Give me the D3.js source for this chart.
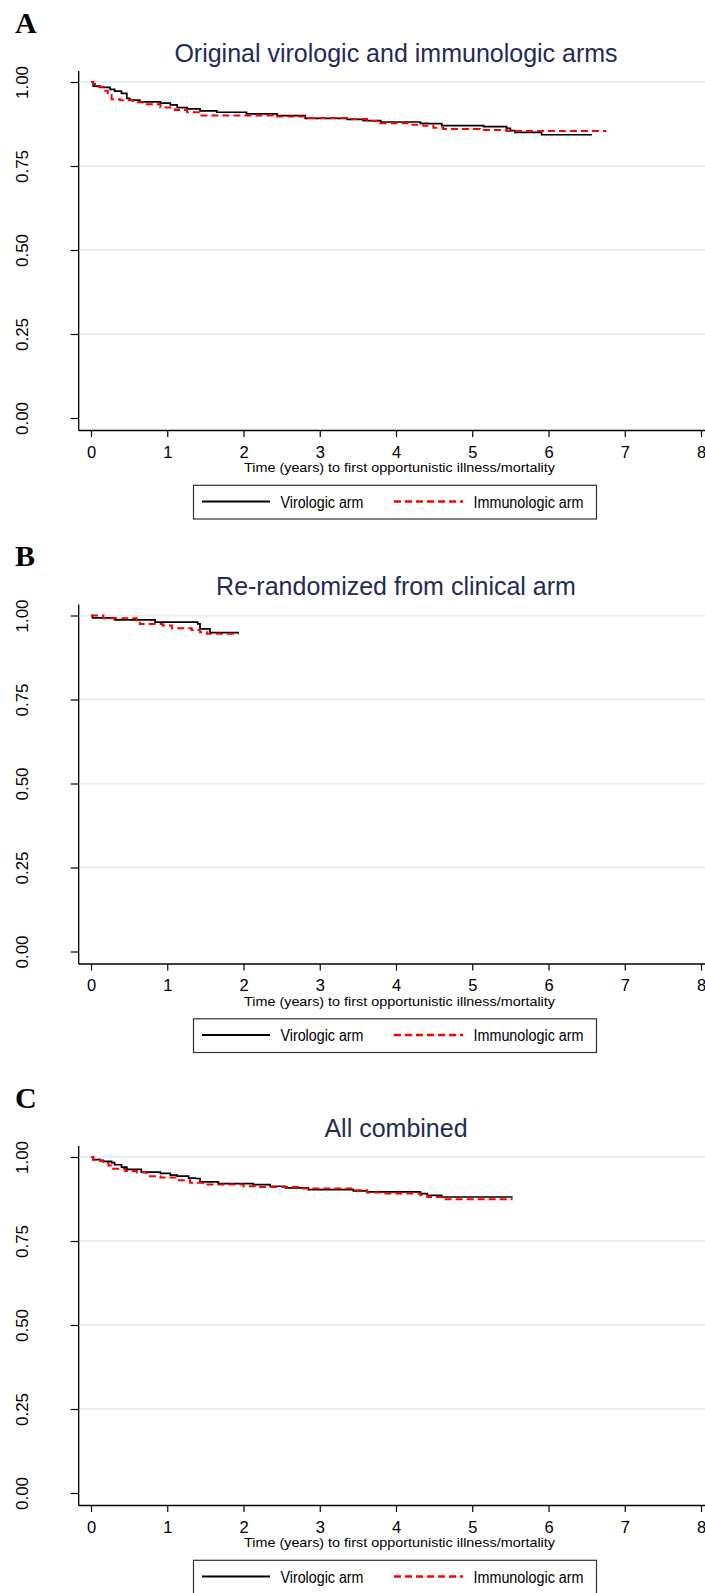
<!DOCTYPE html>
<html>
<head>
<meta charset="utf-8">
<script src="https://cdn.jsdelivr.net/npm/d3@7"></script>
<style>
  html, body { margin: 0; padding: 0; background: #fff; }
  svg { display: block; }
</style>
</head>
<body>
<svg id="chart" width="705" height="1593"></svg>
<script>
// ---------------- DATA ----------------
const panelLabels = ["A", "B", "C"];
const panelTitles = [
  "Original virologic and immunologic arms",
  "Re-randomized from clinical arm",
  "All combined"
];
const seriesNames = ["Virologic arm", "Immunologic arm"];
const xTickValues = [0, 1, 2, 3, 4, 5, 6, 7, 8];
const yTickValues = [0, 0.25, 0.5, 0.75, 1];
const yTickLabels = ["0.00", "0.25", "0.50", "0.75", "1.00"];
const gridValues = [0.25, 0.5, 0.75, 1];
const xAxisTitle = "Time (years) to first opportunistic illness/mortality";

// Panel A: [time (years), survival probability]
const virologicA = [
  [0, 1.0], [0.03, 0.988], [0.12, 0.984], [0.25, 0.978], [0.31, 0.973], [0.40, 0.966],
  [0.47, 0.951], [0.51, 0.946], [0.64, 0.941], [0.91, 0.937], [1.04, 0.932], [1.13, 0.924],
  [1.26, 0.920], [1.43, 0.914], [1.65, 0.910], [2.04, 0.905], [2.44, 0.900], [2.81, 0.892],
  [3.36, 0.889], [3.57, 0.885], [3.80, 0.881], [4.32, 0.877], [4.42, 0.876], [4.60, 0.870],
  [5.15, 0.867], [5.45, 0.862], [5.50, 0.855], [5.56, 0.850], [5.91, 0.843], [6.57, 0.843]
];
const immunologicA = [
  [0, 1.0], [0.03, 0.994], [0.07, 0.986], [0.16, 0.974], [0.22, 0.961], [0.27, 0.949],
  [0.38, 0.946], [0.55, 0.940], [0.73, 0.934], [0.91, 0.924], [1.10, 0.917], [1.26, 0.910],
  [1.43, 0.900], [2.39, 0.897], [2.83, 0.893], [3.40, 0.890], [3.62, 0.884], [3.79, 0.877],
  [4.19, 0.873], [4.36, 0.870], [4.49, 0.864], [4.62, 0.860], [5.10, 0.857], [5.45, 0.854],
  [6.76, 0.854]
];
// Panel B
const virologicB = [
  [0, 1.0], [0.02, 0.993], [0.31, 0.987], [0.84, 0.980], [1.40, 0.975], [1.43, 0.960],
  [1.56, 0.949], [1.94, 0.949]
];
const immunologicB = [
  [0, 1.0], [0.16, 0.992], [0.60, 0.985], [0.64, 0.975], [0.94, 0.970], [1.06, 0.962],
  [1.32, 0.957], [1.43, 0.950], [1.52, 0.946], [1.94, 0.946]
];
// Panel C
const virologicC = [
  [0, 1.0], [0.03, 0.992], [0.12, 0.990], [0.16, 0.987], [0.27, 0.983], [0.31, 0.977],
  [0.40, 0.970], [0.47, 0.963], [0.66, 0.955], [0.91, 0.951], [1.04, 0.946], [1.13, 0.943],
  [1.28, 0.937], [1.37, 0.936], [1.43, 0.926], [1.67, 0.921], [2.13, 0.918], [2.35, 0.913],
  [2.55, 0.908], [2.85, 0.903], [3.44, 0.899], [3.62, 0.896], [4.32, 0.891], [4.41, 0.886],
  [4.60, 0.881], [5.53, 0.881]
];
const immunologicC = [
  [0, 1.0], [0.03, 0.992], [0.12, 0.988], [0.16, 0.982], [0.23, 0.975], [0.27, 0.965],
  [0.38, 0.964], [0.45, 0.958], [0.60, 0.954], [0.73, 0.943], [0.91, 0.939], [1.13, 0.931],
  [1.30, 0.923], [1.47, 0.918], [2.00, 0.913], [2.20, 0.911], [2.78, 0.906], [3.44, 0.901],
  [3.62, 0.894], [3.83, 0.891], [4.32, 0.886], [4.41, 0.881], [4.60, 0.874], [5.53, 0.874]
];
const panelSeries = [
  [virologicA, immunologicA],
  [virologicB, immunologicB],
  [virologicC, immunologicC]
];

// ---------------- LAYOUT ----------------
const W = 705;
const panelOffsets = [0, 533.5, 1075];
const titleColor = "#1e2c55";
const gridColor = "#e8eff2";
const seriesStyles = [
  { color: "#000000", width: 1.7, dash: null },
  { color: "#ff0000", width: 2.0, dash: "7,4" }
];
const sans = "'Liberation Sans', Arial, Helvetica, sans-serif";

const svg = d3.select("#chart");
svg.append("rect").attr("width", W).attr("height", 1593).attr("fill", "#fff");

const x = d3.scaleLinear().domain([0, 8]).range([91, 701]);

panelLabels.forEach((lab, i) => {
  const off = panelOffsets[i];
  const g = svg.append("g").attr("transform", `translate(0,${off})`);
  const y = d3.scaleLinear().domain([0, 1]).range([418, 82]);
  const axisX = 78.7;
  const axisY = 430.5;

  // panel letter
  g.append("text").attr("x", 15).attr("y", 32.8)
    .attr("font-family", "'Liberation Serif', 'Times New Roman', serif")
    .attr("font-weight", "bold").attr("font-size", 30).attr("fill", "#000")
    .text(lab);

  // title
  g.append("text").attr("x", 396).attr("y", 61.7).attr("text-anchor", "middle")
    .attr("font-family", sans).attr("font-size", 25).attr("fill", titleColor)
    .text(panelTitles[i]);

  // gridlines
  g.append("g").selectAll("line").data(gridValues).join("line")
    .attr("x1", axisX + 1).attr("x2", W)
    .attr("y1", d => y(d)).attr("y2", d => y(d))
    .attr("stroke", gridColor).attr("stroke-width", 1.8);

  // y axis
  const yAxis = d3.axisLeft(y).tickValues(yTickValues).tickSize(8)
    .tickFormat((d, k) => yTickLabels[k]);
  const ya = g.append("g").attr("transform", `translate(${axisX},0)`).call(yAxis);
  ya.select(".domain").remove();
  ya.selectAll(".tick line").attr("stroke", "#000").attr("stroke-width", 1.2);
  ya.selectAll(".tick text")
    .attr("x", null).attr("dy", null)
    .attr("transform", `translate(${28.5 - axisX},0) rotate(-90)`)
    .attr("text-anchor", "middle")
    .attr("font-family", sans).attr("font-size", 17).attr("fill", "#000");
  g.append("line").attr("x1", axisX).attr("x2", axisX)
    .attr("y1", y(1) - 11).attr("y2", axisY)
    .attr("stroke", "#000").attr("stroke-width", 1.3);

  // x axis
  const xAxis = d3.axisBottom(x).tickValues(xTickValues).tickSize(6.5).tickFormat(d3.format("d"));
  const xa = g.append("g").attr("transform", `translate(0,${axisY})`).call(xAxis);
  xa.select(".domain").remove();
  xa.selectAll(".tick line").attr("stroke", "#000").attr("stroke-width", 1.2);
  xa.selectAll(".tick text").attr("y", null).attr("dy", null)
    .attr("transform", "translate(0,27.2)")
    .attr("font-family", sans).attr("font-size", 16.5).attr("fill", "#000");
  g.append("line").attr("x1", axisX).attr("x2", W)
    .attr("y1", axisY).attr("y2", axisY)
    .attr("stroke", "#000").attr("stroke-width", 1.3);

  // x title
  g.append("text").attr("x", 399.5).attr("y", 472.3).attr("text-anchor", "middle")
    .attr("font-family", sans).attr("font-size", 13.5).attr("fill", "#000")
    .attr("textLength", 311).attr("lengthAdjust", "spacingAndGlyphs")
    .text(xAxisTitle);

  // curves
  const line = d3.line().x(d => x(d[0])).y(d => y(d[1])).curve(d3.curveStepAfter);
  panelSeries[i].forEach((data, s) => {
    const st = seriesStyles[s];
    g.append("path").datum(data)
      .attr("d", line)
      .attr("fill", "none")
      .attr("stroke", st.color)
      .attr("stroke-width", st.width)
      .attr("stroke-dasharray", st.dash);
  });

  // legend
  const lg = g.append("g");
  lg.append("rect").attr("x", 193.5).attr("y", 485.3).attr("width", 403).attr("height", 33.7)
    .attr("fill", "#fff").attr("stroke", "#333").attr("stroke-width", 1.2);
  const legendItems = [
    { x1: 202, x2: 270, tx: 280.5, tw: 83 },
    { x1: 394, x2: 463, tx: 473.5, tw: 110 }
  ];
  seriesNames.forEach((name, s) => {
    const it = legendItems[s];
    const st = seriesStyles[s];
    lg.append("line").attr("x1", it.x1).attr("x2", it.x2)
      .attr("y1", 501.5).attr("y2", 501.5)
      .attr("stroke", st.color).attr("stroke-width", st.width + 0.3)
      .attr("stroke-dasharray", st.dash);
    lg.append("text").attr("x", it.tx).attr("y", 507.5)
      .attr("font-family", sans).attr("font-size", 16).attr("fill", "#000")
      .attr("textLength", it.tw).attr("lengthAdjust", "spacingAndGlyphs")
      .text(name);
  });
});
</script>
</body>
</html>
